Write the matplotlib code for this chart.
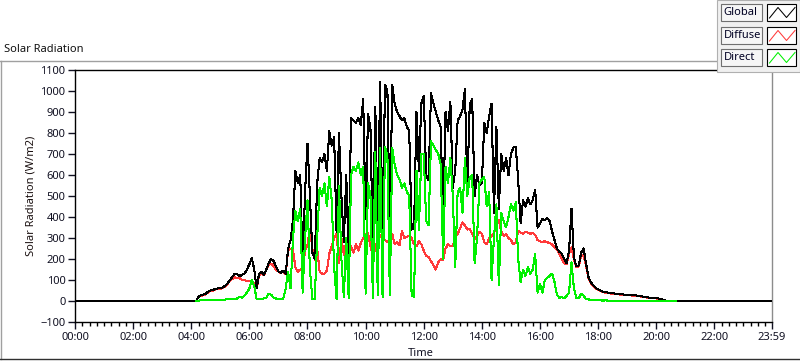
import numpy as np
import matplotlib
matplotlib.use("Agg")
import matplotlib.pyplot as plt
from matplotlib.patches import Rectangle
from matplotlib.lines import Line2D

plt.rcParams['font.family'] = ['Noto Sans', 'DejaVu Sans']
plt.rcParams['font.size'] = 8

# Data: 5-minute samples from 04:10 to 20:40 (W/m2)
start_min, step_min = 250, 5

global_wm2 = [
    0, 20, 28, 30, 35, 45, 50, 52, 58, 60,                       # 04:10-04:55
    62, 65, 72, 85, 100, 115, 130, 128, 118, 125, 130, 150,      # 05
    175, 205, 150, 60, 130, 140, 125, 150, 180, 200, 190, 165,   # 06
    140, 135, 145, 130, 250, 290, 385, 620, 560, 600, 170, 520,  # 07
    750, 500, 230, 200, 560, 680, 660, 700, 620, 810, 740, 780,  # 08
    330, 800, 500, 280, 600, 220, 870, 860, 850, 870, 840, 960,  # 09
    390, 890, 820, 256, 925, 325, 1045, 300, 1030, 1000, 320, 1030,  # 10
    940, 900, 880, 860, 870, 830, 810, 340, 350, 900, 620, 940,  # 11
    975, 600, 575, 990, 940, 900, 860, 830, 385, 900, 810, 950,  # 12
    540, 620, 860, 880, 910, 1010, 540, 940, 960, 500, 600, 550,  # 13
    560, 850, 800, 880, 940, 420, 830, 440, 700, 620, 680, 600,  # 14
    700, 730, 735, 575, 370, 480, 450, 490, 460, 480, 530, 350,  # 15
    370, 390, 385, 395, 380, 330, 290, 250, 235, 225, 200, 180,  # 16
    240, 440, 210, 165, 170, 230, 250, 180, 115, 90, 75, 62,     # 17
    55, 50, 45, 42, 40, 38, 37, 35, 35, 33, 32, 30,              # 18
    30, 28, 28, 27, 26, 25, 22, 20, 18, 16, 15, 14,              # 19
    13, 12, 10, 6, 2, 0, 0, 0, 0,                                # 20:00-20:40
]

diffuse_wm2 = [
    0, 18, 25, 28, 32, 42, 47, 50, 55, 57,
    58, 62, 70, 82, 95, 105, 112, 110, 108, 100, 100, 95,
    95, 90, 85, 60, 120, 130, 122, 148, 172, 178, 165, 150,
    140, 133, 140, 128, 240, 250, 245, 160, 140, 150, 150, 240,
    270, 345, 250, 195, 250, 140, 130, 130, 145, 225, 260, 300,
    320, 180, 300, 220, 280, 210, 260, 230, 270, 240, 275, 300,
    320, 325, 260, 215, 250, 300, 315, 295, 290, 280, 300, 320,
    270, 280, 265, 335, 300, 305, 310, 300, 270, 260, 285, 270,
    240, 215, 210, 190, 170, 150, 185, 200, 195, 250, 270, 260,
    265, 300, 320, 345, 375, 360, 340, 345, 320, 295, 310, 330,
    320, 280, 270, 300, 310, 320, 370, 385, 330, 310, 320, 300,
    290, 270, 280, 335, 325, 320, 330, 325, 320, 325, 315, 290,
    285, 280, 285, 280, 275, 270, 255, 245, 225, 200, 180, 175,
    225, 255, 200, 160, 165, 215, 220, 168, 110, 85, 72, 60,
    53, 48, 43, 40, 38, 36, 35, 33, 33, 31, 30, 28,
    28, 27, 26, 25, 24, 23, 20, 19, 17, 15, 14, 13,
    12, 11, 9, 5, 2, 0, 0, 0, 0,
]

direct_wm2 = [
    0, 2, 3, 3, 4, 4, 5, 5, 5, 6,
    6, 7, 7, 8, 8, 9, 10, 12, 20, 15, 25, 40,
    60, 100, 70, 10, 8, 10, 12, 15, 35, 30, 15, 12,
    10, 10, 12, 60, 140, 60, 300, 430, 380, 440, 40, 300,
    480, 150, 10, 10, 300, 540, 500, 560, 450, 590, 480, 160,
    10, 550, 200, 18, 300, 15, 600, 640, 620, 660, 600, 640,
    35, 560, 500, 15, 710, 30, 730, 18, 735, 690, 30, 730,
    650, 600, 580, 540, 560, 520, 500, 25, 20, 620, 340, 700,
    700, 380, 360, 760, 740, 720, 700, 650, 200, 640, 560, 680,
    500, 160, 520, 540, 420, 680, 500, 590, 600, 180, 300, 560,
    580, 590, 450, 520, 100, 300, 460, 75, 420, 380, 350, 400,
    460, 430, 470, 200, 90, 150, 120, 160, 130, 150, 225, 40,
    80, 40, 100, 110, 120, 130, 90, 30, 15, 20, 12, 25,
    40, 185, 60, 15, 12, 35, 25, 10, 8, 5, 6, 4,
    3, 3, 2, 3, 2, 2, 2, 1, 2, 1, 1, 1,
    1, 1, 1, 1, 1, 1, 1, 1, 1, 1, 1, 1,
    1, 1, 1, 0, 0, 0, 0, 0, 0,
]

# global reading is zero outside the window, over the whole day
day_bounds = [0, 1439]

x_tick_minutes = [0, 120, 240, 360, 480, 600, 720, 840, 960, 1080, 1200, 1320, 1439]
x_tick_labels = ["00:00", "02:00", "04:00", "06:00", "08:00", "10:00", "12:00",
                 "14:00", "16:00", "18:00", "20:00", "22:00", "23:59"]
y_ticks = list(range(-100, 1101, 100))

series_names = ["Global", "Diffuse", "Direct"]
series_colors = ["#000000", "#ff3a3a", "#00f000"]

minutes = start_min + step_min * np.arange(len(global_wm2))

W, H = 800, 361
fig = plt.figure(figsize=(W / 100, H / 100), dpi=100)

def fx(px):
    return px / W

def fy(py):
    return 1 - py / H

ax = fig.add_axes([fx(75), fy(322), fx(772) - fx(75), fy(70) - fy(322)])

lw = 0.75
ax.plot(minutes, diffuse_wm2, color=series_colors[1], lw=lw, antialiased=False, zorder=2)
ax.plot([day_bounds[0]] + list(minutes) + [day_bounds[1]],
        [0] + global_wm2 + [0], color=series_colors[0], lw=lw, antialiased=False, zorder=3)
ax.plot(minutes, direct_wm2, color=series_colors[2], lw=lw, antialiased=False, zorder=4)

ax.set_xlim(0, 1439)
ax.set_ylim(-100, 1100)
ax.set_xticks(x_tick_minutes)
ax.set_xticklabels(x_tick_labels)
ax.set_xticks(np.arange(15, 1439, 15), minor=True)
ax.set_yticks(y_ticks)
ax.tick_params(axis="x", which="major", length=5, width=1, pad=2, colors="#111122")
ax.tick_params(axis="x", which="minor", length=3, width=1)
ax.tick_params(axis="y", length=5, width=1, pad=2, colors="#111122")

for side in ["left", "top", "bottom"]:
    ax.spines[side].set_color("black")
    ax.spines[side].set_linewidth(1)
ax.spines["right"].set_color("#8c8c8c")
ax.spines["right"].set_linewidth(1)

fig.text(fx(31), fy(196), "Solar Radiation (W/m2)", rotation=90,
         ha="center", va="center", color="#1a1010")
fig.text(fx(421), fy(354), "Time", ha="center", va="center", color="#111122")
fig.text(fx(4), fy(50), "Solar Radiation", ha="left", va="center", color="#111111")

# outer panel frame
fig.add_artist(Line2D([fx(0), fx(718)], [fy(61), fy(61)], color="#a0a0a0", lw=1))
fig.add_artist(Line2D([fx(0.5), fx(0.5)], [fy(61), fy(359)], color="#a0a0a0", lw=1))
fig.add_artist(Line2D([fx(0), fx(800)], [fy(359), fy(359)], color="#303030", lw=1))

# legend panel
fig.add_artist(Rectangle((fx(717), fy(72)), fx(83), fy(0) - fy(72),
                         facecolor="#f0f0f0", edgecolor="#b0b0b0", lw=0.8, zorder=5))
row_tops = [4, 27, 49]
for name, color, top in zip(series_names, series_colors, row_tops):
    fig.add_artist(Rectangle((fx(721), fy(top + 17)), fx(41), fy(top) - fy(top + 17),
                             facecolor="#f6f6f6", edgecolor="#707070", lw=0.8, zorder=6))
    fig.text(fx(723.5), fy(top + 8.5), name, ha="left", va="center",
             color="#000022", zorder=7)
    fig.add_artist(Rectangle((fx(767), fy(top + 17)), fx(29), fy(top) - fy(top + 17),
                             facecolor="white", edgecolor="black", lw=0.8, zorder=6))
    fig.add_artist(Line2D([fx(769.5), fx(778), fx(786.5), fx(795)],
                          [fy(top + 14), fy(top + 3.5), fy(top + 13.5), fy(top + 3.5)],
                          color=color, lw=0.75, zorder=7))

fig.savefig("out.png", dpi=100)
